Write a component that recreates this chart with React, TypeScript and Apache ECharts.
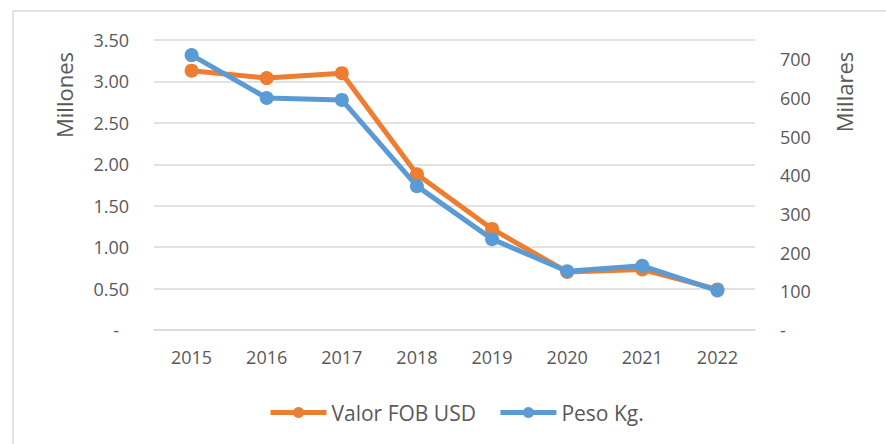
import React, { useEffect, useRef } from "react";
import * as echarts from "echarts";

const years = ["2015", "2016", "2017", "2018", "2019", "2020", "2021", "2022"];
const valorFOB = [3.13, 3.04, 3.1, 1.88, 1.22, 0.7, 0.73, 0.49];
const pesoKg = [711, 600, 595, 372, 235, 152, 166, 102];
const leftTicks = { min: 0, max: 3.5, interval: 0.5 };
const rightTicks = { min: 0, max: 750, interval: 100 };

const FONT = "'Open Sans', Lato, sans-serif";
const TXT = "#595959";

export default function App() {
  const ref = useRef<HTMLDivElement>(null);
  useEffect(() => {
    const chart = echarts.init(ref.current!, undefined, { renderer: "svg" });
    chart.setOption({
      animation: false,
      backgroundColor: "#ffffff",
      textStyle: { fontFamily: FONT },
      grid: { left: 154, right: 131, top: 40, bottom: 114 },
      graphic: [
        {
          type: "rect",
          shape: { x: 13, y: 11, width: 900, height: 460 },
          style: { fill: "none", stroke: "#d9d9d9", lineWidth: 1.5 },
          silent: true,
        },
        {
          type: "text",
          x: 64,
          y: 95,
          rotation: Math.PI / 2,
          style: { text: "Millones", fill: TXT, font: `22px ${FONT}`, align: "center", verticalAlign: "middle" },
        },
        {
          type: "text",
          x: 844,
          y: 92,
          rotation: Math.PI / 2,
          style: { text: "Millares", fill: TXT, font: `22px ${FONT}`, align: "center", verticalAlign: "middle" },
        },
      ],
      legend: {
        left: 263,
        top: 397,
        itemWidth: 56,
        itemHeight: 14,
        itemGap: 22,
        lineStyle: { width: 5 },
        textStyle: { color: TXT, fontSize: 21, fontFamily: FONT },
        data: ["Valor FOB USD", "Peso Kg."],
      },
      xAxis: {
        type: "category",
        data: years,
        boundaryGap: true,
        axisLine: { lineStyle: { color: "#d9d9d9", width: 1.5 } },
        axisTick: { show: false },
        axisLabel: { color: TXT, fontSize: 18, margin: 18, fontFamily: FONT },
      },
      yAxis: [
        {
          type: "value",
          ...leftTicks,
          axisLine: { show: false },
          axisTick: { show: false },
          splitLine: { lineStyle: { color: "#d9d9d9", width: 1.5 } },
          axisLabel: {
            color: TXT,
            fontSize: 18,
            margin: 25,
            fontFamily: FONT,
            formatter: (v: number) => (v === 0 ? "{d|-}" : v.toFixed(2)),
            rich: { d: { color: TXT, fontSize: 18, padding: [0, 10, 0, 0], fontFamily: FONT } },
          },
        },
        {
          type: "value",
          ...rightTicks,
          axisLine: { show: false },
          axisTick: { show: false },
          splitLine: { show: false },
          axisLabel: {
            color: TXT,
            fontSize: 18,
            margin: 25,
            fontFamily: FONT,
            showMaxLabel: false,
            formatter: (v: number) => (v === 0 ? "-" : String(v)),
          },
        },
      ],
      series: [
        {
          name: "Valor FOB USD",
          type: "line",
          yAxisIndex: 0,
          data: valorFOB,
          symbol: "circle",
          symbolSize: 14,
          color: "#ED7D31",
          lineStyle: { width: 5, color: "#ED7D31" },
          itemStyle: { color: "#ED7D31" },
          z: 2,
        },
        {
          name: "Peso Kg.",
          type: "line",
          yAxisIndex: 1,
          data: pesoKg,
          symbol: "circle",
          symbolSize: 14,
          color: "#5B9BD5",
          lineStyle: { width: 5, color: "#5B9BD5" },
          itemStyle: { color: "#5B9BD5" },
          z: 3,
        },
      ],
    });
    return () => chart.dispose();
  }, []);
  return <div ref={ref} style={{ position: "absolute", left: 0, top: 0, width: 886, height: 444 }} />;
}
